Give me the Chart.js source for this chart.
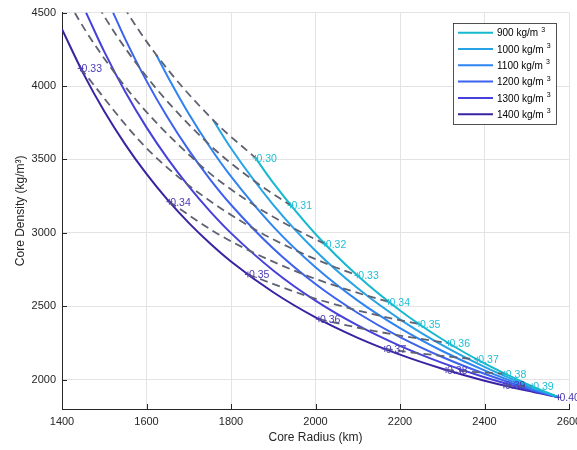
<!DOCTYPE html>
<html>
<head>
<meta charset="utf-8">
<script src="https://cdn.jsdelivr.net/npm/chart.js@4"></script>
<style>
  html, body { margin: 0; padding: 0; background: #fff; overflow: hidden; }
  #wrap { width: 600px; height: 450px; }
</style>
</head>
<body>
<div id="wrap"><canvas id="coreChart" width="600" height="450"></canvas></div>
<script>
// Core radius (km) / core density (kg/m^3) for each mantle density
const mantleDensities = [900, 1000, 1100, 1200, 1300, 1400];

const rc900 = [1858, 1900, 2000, 2100, 2200, 2300, 2400, 2500, 2575];
const rho900 = [3510, 3340, 2992, 2707, 2471, 2275, 2110, 1971, 1880];

const rc1000 = [1758, 1800, 1900, 2000, 2100, 2200, 2300, 2400, 2500, 2575];
const rho1000 = [3767, 3576, 3191, 2878, 2622, 2411, 2235, 2087, 1962, 1880];

const rc1100 = [1623, 1650, 1700, 1750, 1800, 1900, 2000, 2100, 2200, 2300, 2400, 2500, 2575];
const rho1100 = [4213, 4065, 3811, 3585, 3384, 3042, 2765, 2538, 2351, 2195, 2063, 1952, 1880];

const rc1200 = [1521, 1550, 1600, 1650, 1700, 1750, 1800, 1900, 2000, 2100, 2200, 2300, 2400, 2500, 2575];
const rho1200 = [4500, 4318, 4035, 3785, 3563, 3366, 3191, 2893, 2651, 2454, 2290, 2154, 2040, 1943, 1880];

const rc1300 = [1457, 1500, 1550, 1600, 1650, 1700, 1750, 1800, 1900, 2000, 2100, 2200, 2300, 2400, 2500, 2575];
const rho1300 = [4500, 4234, 3959, 3718, 3505, 3316, 3148, 2998, 2744, 2538, 2369, 2230, 2114, 2016, 1934, 1880];

const rc1400 = [1400, 1450, 1500, 1550, 1600, 1650, 1700, 1750, 1800, 1900, 2000, 2100, 2200, 2300, 2400, 2500, 2575];
const rho1400 = [4387, 4088, 3828, 3601, 3401, 3224, 3068, 2929, 2805, 2595, 2424, 2285, 2170, 2074, 1993, 1925, 1880];

// moment of inertia contours (dashed), listed from the 1400 side to the 900 side
const moiLevels = ["0.30", "0.31", "0.32", "0.33", "0.34", "0.35", "0.36", "0.37", "0.38", "0.39"];
const moiRadius = [
  [1431, 1537, 1623, 1758, 1858],
  [1340, 1476, 1583, 1742, 1856, 1941],
  [1199, 1388, 1527, 1722, 1853, 1949, 2022],
  [1444, 1586, 1694, 1850, 1958, 2038, 2099],
  [1654, 1761, 1846, 1970, 2058, 2123, 2173],
  [1840, 1986, 2083, 2152, 2205, 2245],
  [2008, 2117, 2190, 2243, 2283, 2315],
  [2164, 2240, 2293, 2331, 2360, 2383],
  [2309, 2357, 2390, 2415, 2434, 2448],
  [2446, 2469, 2484, 2496, 2505, 2513]
];
const moiDensity = [
  [5162, 4584, 4213, 3767, 3510],
  [5418, 4595, 4127, 3619, 3351, 3187],
  [6159, 4734, 4081, 3475, 3192, 3030, 2925],
  [4120, 3619, 3337, 3034, 2874, 2776, 2710],
  [3212, 3006, 2875, 2719, 2629, 2571, 2530],
  [2716, 2564, 2484, 2435, 2402, 2379],
  [2412, 2344, 2305, 2280, 2262, 2249],
  [2209, 2181, 2164, 2152, 2144, 2137],
  [2066, 2056, 2050, 2046, 2042, 2040],
  [1960, 1958, 1957, 1956, 1955, 1955]
];
const firstInnerLabel = 3; // purple labels start at 0.33
const lastLabel = { text: "0.40", x: 2575, y: 1880 };

const xTicks = [1400, 1600, 1800, 2000, 2200, 2400, 2600];
const yTicks = [2000, 2500, 3000, 3500, 4000, 4500];

const curveColors = ["#17b9cf", "#27a3e6", "#2f84f2", "#3d62ee", "#4741dc", "#3a23a3"];
const cyanText = "#1ec0d6";
const purpleText = "#4a3ab2";

Chart.defaults.font.family = "'Liberation Sans', Arial, sans-serif";

const toPoints = (xs, ys) => xs.map((v, i) => ({ x: v, y: ys[i] }));

const curveData = [
  toPoints(rc900, rho900), toPoints(rc1000, rho1000), toPoints(rc1100, rho1100),
  toPoints(rc1200, rho1200), toPoints(rc1300, rho1300), toPoints(rc1400, rho1400)
];

const datasets = [];
moiLevels.forEach((lvl, i) => {
  datasets.push({
    label: "I/MR2 " + lvl,
    data: toPoints(moiRadius[i], moiDensity[i]),
    borderColor: "#5e6270",
    borderWidth: 1.8,
    borderDash: [8, 5],
    cubicInterpolationMode: "monotone",
    pointRadius: 0,
    order: 0
  });
});
curveData.forEach((pts, i) => {
  datasets.push({
    label: mantleDensities[i] + " kg/m3",
    data: pts,
    borderColor: curveColors[i],
    borderWidth: 2,
    cubicInterpolationMode: "monotone",
    pointRadius: 0,
    order: 1
  });
});

// '+' marker and value text, like clabel
function drawTag(c, px, py, text, color) {
  c.strokeStyle = color;
  c.lineWidth = 1;
  c.beginPath();
  c.moveTo(px - 3, py); c.lineTo(px + 3, py);
  c.moveTo(px, py - 3); c.lineTo(px, py + 3);
  c.stroke();
  c.fillStyle = color;
  c.fillText(text, px + 1, py + 1);
}

const contourLabels = {
  id: "contourLabels",
  afterDatasetsDraw(chart) {
    const { ctx: c, scales: { x, y } } = chart;
    c.save();
    c.font = "10.5px 'Liberation Sans', Arial, sans-serif";
    c.textAlign = "left";
    c.textBaseline = "middle";
    moiLevels.forEach((lvl, i) => {
      const n = moiRadius[i].length - 1;
      drawTag(c, x.getPixelForValue(moiRadius[i][n]), y.getPixelForValue(moiDensity[i][n]), lvl, cyanText);
    });
    moiLevels.forEach((lvl, i) => {
      if (i < firstInnerLabel) return;
      drawTag(c, x.getPixelForValue(moiRadius[i][0]), y.getPixelForValue(moiDensity[i][0]), lvl, purpleText);
    });
    drawTag(c, x.getPixelForValue(lastLabel.x), y.getPixelForValue(lastLabel.y), lastLabel.text, purpleText);
    c.restore();
  }
};

const innerTicks = {
  id: "innerTicks",
  afterDraw(chart) {
    const { ctx: c, chartArea: a, scales: { x, y } } = chart;
    c.save();
    c.strokeStyle = "#262626";
    c.lineWidth = 1;
    c.beginPath();
    xTicks.forEach(v => {
      const p = Math.round(x.getPixelForValue(v)) + 0.5;
      c.moveTo(p, a.bottom); c.lineTo(p, a.bottom - 5);
    });
    yTicks.forEach(v => {
      const p = Math.round(y.getPixelForValue(v)) + 0.5;
      c.moveTo(a.left, p); c.lineTo(a.left + 5, p);
    });
    c.stroke();
    c.restore();
  }
};

const legendBox = {
  id: "legendBox",
  afterDraw(chart) {
    const c = chart.ctx;
    const x0 = 453.5, y0 = 23.5, w = 103, h = 101;
    c.save();
    c.fillStyle = "#fff";
    c.fillRect(x0, y0, w, h);
    c.strokeStyle = "#262626";
    c.lineWidth = 0.8;
    c.strokeRect(x0, y0, w, h);
    c.textAlign = "left";
    c.textBaseline = "middle";
    mantleDensities.forEach((d, i) => {
      const ly = 32.7 + i * 16.3;
      c.strokeStyle = curveColors[i];
      c.lineWidth = 2;
      c.beginPath(); c.moveTo(458, ly); c.lineTo(493, ly); c.stroke();
      c.fillStyle = "#000";
      c.font = "10px 'Liberation Sans', Arial, sans-serif";
      const txt = d + " kg/m";
      c.fillText(txt, 497, ly + 1);
      const tw = c.measureText(txt).width;
      c.font = "7px 'Liberation Sans', Arial, sans-serif";
      c.fillText("3", 497 + tw + 3, ly - 3);
    });
    c.restore();
  }
};

const ctx = document.getElementById("coreChart").getContext("2d");
new Chart(ctx, {
  type: "line",
  data: { datasets: datasets },
  options: {
    responsive: false,
    animation: false,
    events: [],
    layout: { padding: { top: 10, right: 31, left: 0, bottom: 0 } },
    plugins: { legend: { display: false }, tooltip: { enabled: false } },
    elements: { point: { radius: 0 } },
    scales: {
      x: {
        type: "linear",
        min: 1400,
        max: 2600,
        afterBuildTicks: s => { s.ticks = xTicks.map(v => ({ value: v })); },
        afterFit: s => { s.height = 41; },
        ticks: { padding: 6, color: "#262626", font: { size: 11 }, callback: v => String(v) },
        grid: { color: "#e3e3e3", drawTicks: false },
        border: { color: "#262626", width: 1 },
        title: {
          display: true,
          text: "Core Radius (km)",
          color: "#262626",
          font: { size: 12 },
          padding: { top: 0, bottom: 5 }
        }
      },
      y: {
        type: "linear",
        min: 1800,
        max: 4500,
        afterBuildTicks: s => { s.ticks = yTicks.map(v => ({ value: v })); },
        afterFit: s => { s.width = 62; },
        ticks: { padding: 6, color: "#262626", font: { size: 11 }, callback: v => String(v) },
        grid: { color: "#e3e3e3", drawTicks: false },
        border: { color: "#262626", width: 1 },
        title: {
          display: true,
          text: "Core Density (kg/m³)",
          color: "#262626",
          font: { size: 12 },
          padding: { top: 13, bottom: 0 }
        }
      }
    }
  },
  plugins: [contourLabels, innerTicks, legendBox]
});
</script>
</body>
</html>
